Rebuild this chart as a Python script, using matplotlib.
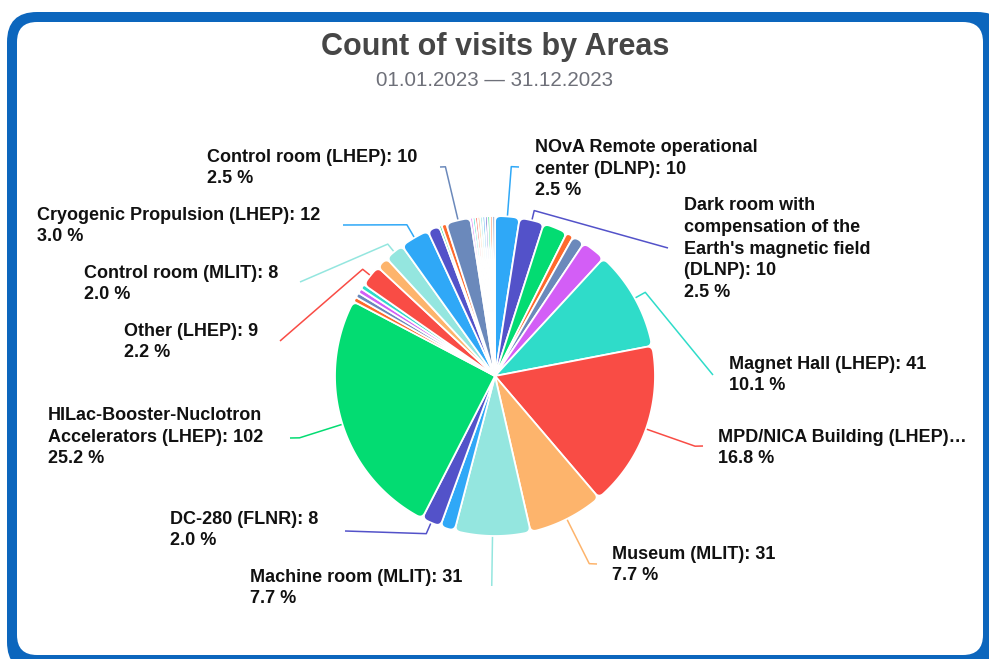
import numpy as np
import matplotlib
matplotlib.use('Agg')
import matplotlib.pyplot as plt
from matplotlib.patches import Polygon, FancyBboxPatch

W, H = 989, 659
plt.rcParams['font.family'] = ['Liberation Sans', 'DejaVu Sans']

title = 'Count of visits by Areas'
subtitle = '01.01.2023 \u2014 31.12.2023'

# slices clockwise from 12 o'clock, '' = no label shown in the chart
names = [
    'NOvA Remote operational\ncenter (DLNP)',
    "Dark room with\ncompensation of the\nEarth's magnetic field\n(DLNP)",
    '', '', '', '',
    'Magnet Hall (LHEP)',
    'MPD/NICA Building (LHEP)\u2026',
    'Museum (MLIT)',
    'Machine room (MLIT)',
    '',
    'DC-280 (FLNR)',
    'HILac-Booster-Nuclotron\nAccelerators (LHEP)',
    '', '', '', '',
    'Other (LHEP)',
    '',
    'Control room (MLIT)',
    'Cryogenic Propulsion (LHEP)',
    '', '', '',
    'Control room (LHEP)',
    '', '', '', '', '', '', '', '', '', '',
]
values = [10, 10, 10, 3, 5, 10, 41, 68, 31, 31, 6, 8, 102, 2, 2, 2, 2, 9, 5, 8,
          12, 5, 1, 2, 10, 1, 1, 1, 1, 1, 1, 1, 1, 1, 1]
truncated = [7]  # label cut off, value not shown

palette = ['#2fa8f7', '#5352c9', '#03dc72', '#fe6a2c', '#6b89bb',
           '#d35ef6', '#2fdcc9', '#f94c45', '#fdb46c', '#94e6df']
colors = [palette[i % len(palette)] for i in range(len(values))]

# label layout: index -> (elbow radius, line end, text left/center)
label_layout = {
    0: (210, (519, 167), (535, 169)),
    1: (170, (668, 248), (684, 249)),
    6: (172, (713, 375), (729, 375)),
    7: (212, (703, 446), (718, 448)),
    8: (210, (597, 564), (612, 565)),
    9: (210, None, (250, 588)),
    11: (172, (345, 531), (170, 530)),
    12: (205, (290, 438), (48, 437)),
    17: (170, (280, 341), (124, 342)),
    19: (170, (300, 282), (84, 284)),
    20: (175, (343, 225), (37, 226)),
    24: (215, (440, 167), (207, 168)),
}

cx, cy, R = 495, 376, 160

fig = plt.figure(figsize=(W / 100, H / 100), dpi=100)
ax = fig.add_axes([0, 0, 1, 1])

# frame
ax.add_patch(FancyBboxPatch((7, 12), 1000, 660, boxstyle='round,pad=0,rounding_size=30',
                            fc='#0c66bd', ec='none', zorder=0))
ax.add_patch(FancyBboxPatch((17, 22), 966, 633, boxstyle='round,pad=0,rounding_size=20',
                            fc='white', ec='none', zorder=0))

wedges, _ = ax.pie(values, colors=colors, startangle=-90, counterclock=True,
                   center=(cx, cy), radius=R)


def rounded_wedge(t1, t2, r, rc=6):
    a1, a2 = np.radians(t1), np.radians(t2)
    rc = min(rc, r * (a2 - a1) / 2)
    d = rc / r
    pts = [(cx, cy)]

    def pol(rr, a):
        return (cx + rr * np.cos(a), cy + rr * np.sin(a))

    p0, c0, p1 = np.array(pol(r - rc, a1)), np.array(pol(r, a1)), np.array(pol(r, a1 + d))
    for s in np.linspace(0, 1, 8):
        pts.append((1 - s) ** 2 * p0 + 2 * s * (1 - s) * c0 + s ** 2 * p1)
    for a in np.linspace(a1 + d, a2 - d, max(2, int((a2 - a1) * 60))):
        pts.append(pol(r, a))
    p0, c0, p1 = np.array(pol(r, a2 - d)), np.array(pol(r, a2)), np.array(pol(r - rc, a2))
    for s in np.linspace(0, 1, 8):
        pts.append((1 - s) ** 2 * p0 + 2 * s * (1 - s) * c0 + s ** 2 * p1)
    return np.array(pts)


for w, col in zip(wedges, colors):
    w.set_visible(False)
    ax.add_patch(Polygon(rounded_wedge(w.theta1, w.theta2, w.r), closed=True,
                         fc=col, ec='white', lw=1.3, joinstyle='round', zorder=2))

total = sum(values)
for i, (er, end, txy) in label_layout.items():
    w = wedges[i]
    mid = np.radians((w.theta1 + w.theta2) / 2)
    xs = [cx + R * np.cos(mid), cx + er * np.cos(mid)]
    ys = [cy + R * np.sin(mid), cy + er * np.sin(mid)]
    if end is not None:
        xs.append(end[0])
        ys.append(end[1])
    ax.plot(xs, ys, color=colors[i], lw=1.1, zorder=1, solid_capstyle='butt')
    pct = f'{100 * values[i] / total:.1f} %'
    if i in truncated:
        txt = f'{names[i]}\n{pct}'
    else:
        txt = f'{names[i]}: {values[i]}\n{pct}'
    ax.text(txy[0], txy[1], txt, ha='left', va='center', fontsize=13,
            fontweight='bold', color='#111111', linespacing=1.36, zorder=3)

ax.text(495, 47, title, ha='center', va='center', fontsize=22, fontweight='bold',
        color='#464646')
ax.text(495, 81, subtitle, ha='center', va='center', fontsize=14.8, color='#6e7079')

ax.set_xlim(0, W)
ax.set_ylim(H, 0)
ax.set_aspect('auto')
ax.axis('off')
fig.savefig('out.png', dpi=100, facecolor='white')
